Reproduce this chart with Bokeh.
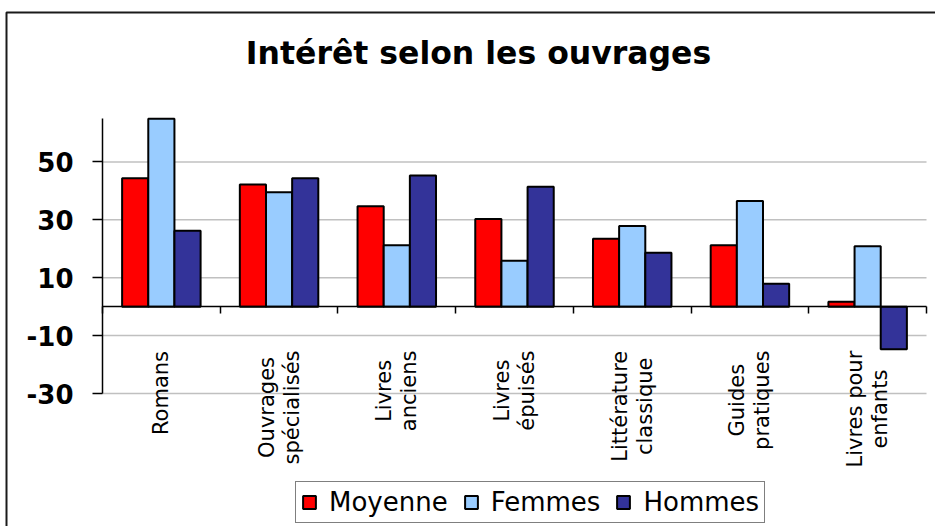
import math
from bokeh.plotting import figure
from bokeh.models import (Range1d, LinearAxis, FixedTicker, Label,
                          Legend, LegendItem, BoxAnnotation, ColumnDataSource)
from bokeh.core.properties import value
from bokeh.transform import dodge
from bokeh.embed import file_html
from bokeh.resources import INLINE

categories = ["Romans", "Ouvrages\nspécialisés", "Livres\nanciens", "Livres\népuisés",
              "Littérature\nclassique", "Guides\npratiques", "Livres pour\nenfants"]
moyenne = [44.4, 42.2, 34.7, 30.3, 23.5, 21.2, 1.7]
femmes = [64.9, 39.5, 21.2, 15.9, 27.9, 36.5, 20.9]
hommes = [26.2, 44.4, 45.3, 41.4, 18.6, 7.9, -14.7]
y_ticks = [-30, -10, 10, 30, 50]
y_min, y_max = -30, 65
title_text = "Intérêt selon les ouvrages"
series_names = ["Moyenne", "Femmes", "Hommes"]
colors = ["#FF0000", "#99CCFF", "#333399"]

FONT = "DejaVu Sans"
CAT_FS = 21
LINE_PITCH = 25  # px between the columns of a two-line rotated label

# page layout (pixels)
W, H = 935, 526
LEFT, RIGHT, TOP, BOT = 102, 926, 118, 393
n = len(categories)
xs = (RIGHT - LEFT) / n            # px per category
ys = (BOT - TOP) / (y_max - y_min)  # px per unit


def px2x(px):
    return (px - LEFT) / xs


def py2y(py):
    return y_max - (py - TOP) / ys


# approximate DejaVu Sans advance widths (em) to top-align rotated label blocks
_W = {" ": .318, "L": .557, "i": .278, "v": .592, "r": .411, "e": .615, "s": .521,
      "a": .613, "n": .634, "c": .550, "o": .612, "p": .635, "u": .634, "f": .352,
      "t": .392, "R": .695, "m": .974, "O": .787, "g": .635, "é": .615, "l": .278,
      "G": .775, "q": .635, "d": .635}


def text_len(s, fs):
    return sum(_W.get(ch, .6) for ch in s) * fs


centers = [i + 0.5 for i in range(n)]
src = ColumnDataSource(dict(x=centers, Moyenne=moyenne, Femmes=femmes, Hommes=hommes,
                            zero=[0] * n))

p = figure(x_range=Range1d(px2x(0), px2x(W)), y_range=Range1d(py2y(H), py2y(0)),
           width=W, height=H, output_backend="svg", toolbar_location=None,
           x_axis_location=None, y_axis_location=None,
           min_border_left=0, min_border_right=0, min_border_top=0, min_border_bottom=0)
p.outline_line_color = None
p.background_fill_color = "white"
p.border_fill_color = "white"
p.xgrid.visible = False
p.ygrid.visible = False

# grid lines (only across the plot area)
p.segment(x0=[0] * len(y_ticks), y0=y_ticks, x1=[n] * len(y_ticks), y1=y_ticks,
          line_color="#c0c0c0", line_width=1.5)

# bars
bw = 1.0 / 4.5
renderers = []
for i, (name, col) in enumerate(zip(series_names, colors)):
    r = p.vbar(x=dodge("x", (i - 1) * bw), top=name, bottom="zero",
               width=bw, source=src, fill_color=col, line_color="black", line_width=2)
    renderers.append(r)

# y axis at left edge of plot area
yax = LinearAxis(fixed_location=0, bounds=(y_min, y_max), ticker=FixedTicker(ticks=y_ticks),
                 major_label_overrides={t: str(t) for t in y_ticks})
yax.major_label_text_font = FONT
yax.major_label_text_font_style = "bold"
yax.major_label_text_font_size = "26px"
yax.major_label_text_color = "black"
yax.axis_line_color = "black"
yax.axis_line_width = 1.5
yax.major_tick_line_color = "black"
yax.major_tick_line_width = 1.5
yax.major_tick_in = 0
yax.major_tick_out = 10
yax.minor_tick_line_color = None
yax.major_label_standoff = 19
p.add_layout(yax, "left")

# category axis line at y = 0 with tick marks between categories
bounds_ticks = list(range(n + 1))
tax = LinearAxis(fixed_location=0, bounds=(0, n), ticker=FixedTicker(ticks=bounds_ticks),
                 major_label_overrides={t: "" for t in bounds_ticks})
tax.axis_line_color = "black"
tax.axis_line_width = 1.5
tax.major_tick_line_color = "black"
tax.major_tick_line_width = 1.5
tax.major_tick_in = 0
tax.major_tick_out = 7
tax.minor_tick_line_color = None
p.add_layout(tax, "below")

# category labels: rotated, each line centred, blocks starting just below the bars
LABEL_TOP = 350
lx, ly, lt = [], [], []
for c, cat in zip(centers, categories):
    lines = cat.split("\n")
    block = max(text_len(ln, CAT_FS) for ln in lines)
    yc = py2y(LABEL_TOP + block / 2)
    for k, ln in enumerate(lines):
        lx.append(c + (k - (len(lines) - 1) / 2) * LINE_PITCH / xs)
        ly.append(yc)
        lt.append(ln)
lab_src = ColumnDataSource(dict(x=lx, y=ly, text=lt))
p.text(x="x", y="y", text="text", source=lab_src, angle=math.pi / 2,
       text_align="center", text_baseline="middle",
       text_font=value(FONT), text_font_size=f"{CAT_FS}px", text_color="black")

# title
p.add_layout(Label(x=px2x(478), y=py2y(52), text=title_text,
                   text_font=FONT, text_font_style="bold", text_font_size="31.5px",
                   text_align="center", text_baseline="alphabetic", text_color="black"))

# outer chart border
p.add_layout(BoxAnnotation(left=px2x(6), right=px2x(W + 10), top=py2y(12), bottom=py2y(H + 10),
                           fill_color=None, line_color="#1a1a1a", line_alpha=1.0, line_width=2))

legend = Legend(items=[LegendItem(label=nm, renderers=[r]) for nm, r in zip(series_names, renderers)],
                orientation="horizontal", location=(295, 3))
legend.label_text_font = FONT
legend.label_text_font_size = "26px"
legend.label_text_color = "black"
legend.glyph_width = 16
legend.glyph_height = 16
legend.label_standoff = 12
legend.spacing = 15
legend.padding = 5
legend.margin = 0
legend.border_line_color = "black"
legend.border_line_width = 1.5
legend.background_fill_color = "white"
legend.background_fill_alpha = 1
p.add_layout(legend, "center")

open("out.html", "w").write(file_html(p, INLINE))
